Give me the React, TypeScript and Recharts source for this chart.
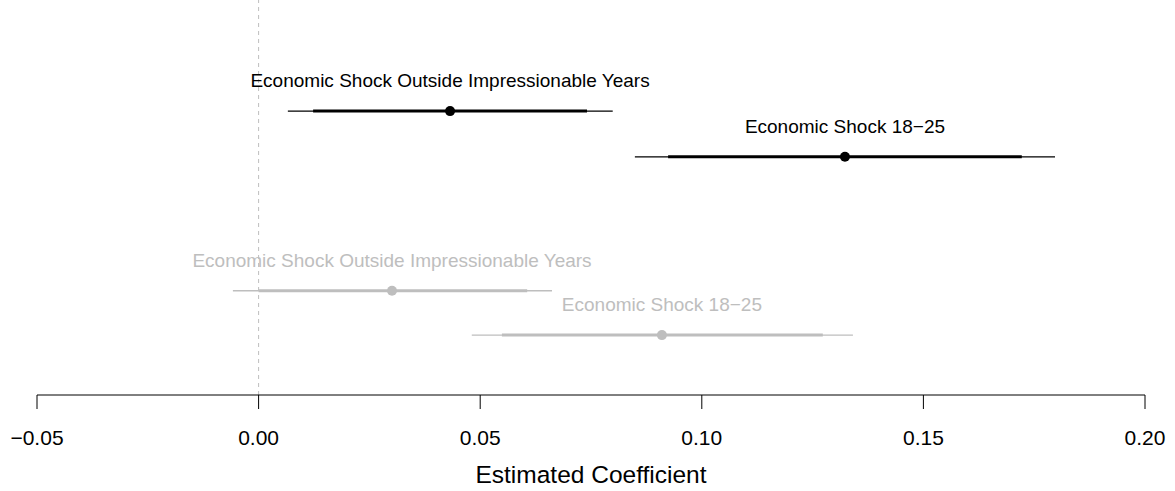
import React from 'react';
import {
  ScatterChart,
  Scatter,
  XAxis,
  YAxis,
  ReferenceLine,
} from 'recharts';

// one row per estimate, top to bottom
const rowLabels = [
  'Economic Shock Outside Impressionable Years',
  'Economic Shock 18\u221225',
  'Economic Shock Outside Impressionable Years',
  'Economic Shock 18\u221225',
];
const rowGroups = ['main', 'main', 'alt', 'alt'];
const rowPos = [1, 2, 4.93, 5.9];
const estimates = [0.0432, 0.1323, 0.0301, 0.091];
const ci90Low = [0.0123, 0.0924, 0.0, 0.0549];
const ci90High = [0.0741, 0.1722, 0.0606, 0.1273];
const ci95Low = [0.0066, 0.0849, -0.0058, 0.0481];
const ci95High = [0.0799, 0.1797, 0.0662, 0.1341];

const xTicks = [-0.05, 0, 0.05, 0.1, 0.15, 0.2];

const groupColor: Record<string, string> = { main: '#000000', alt: '#bebebe' };
const FONT = '"Liberation Sans", Arial, Helvetica, sans-serif';

const rows = rowLabels.map((label, i) => ({
  label,
  group: rowGroups[i],
  x: estimates[i],
  y: rowPos[i],
}));

const fmtTick = (v: number) => v.toFixed(2).replace('-', '\u2212');

const PointWithLabel = (props: any) => {
  const { cx, cy, payload } = props;
  const color = groupColor[payload.group];
  return (
    <g>
      <circle cx={cx} cy={cy} r={5} fill={color} />
      <text
        x={cx}
        y={cy - 24}
        textAnchor="middle"
        fill={color}
        fontSize={19}
        fontFamily={FONT}
      >
        {payload.label}
      </text>
    </g>
  );
};

const App: React.FC = () => {
  return (
    <div style={{ position: 'absolute', left: 0, top: 0, background: '#fff' }}>
      <ScatterChart
        width={1175}
        height={491}
        margin={{ top: 0, right: 30, left: 37, bottom: 0 }}
      >
        <XAxis
          type="number"
          dataKey="x"
          domain={[-0.05, 0.2]}
          ticks={xTicks}
          interval={0}
          tickFormatter={fmtTick}
          tick={{ fill: '#000', fontSize: 21, fontFamily: FONT }}
          tickSize={14}
          tickMargin={21}
          stroke="#000"
          height={96}
          label={{
            value: 'Estimated Coefficient',
            position: 'insideBottom',
            offset: 8,
            fill: '#000',
            fontSize: 24.5,
            fontFamily: FONT,
          }}
        />
        <YAxis
          type="number"
          dataKey="y"
          domain={[-1.43, 7.21]}
          reversed
          hide
          width={0}
        />
        <ReferenceLine x={0} stroke="#bebebe" strokeDasharray="4 4" />
        {rows.map((r, i) => (
          <ReferenceLine
            key={`w${i}`}
            segment={[
              { x: ci95Low[i], y: r.y },
              { x: ci95High[i], y: r.y },
            ]}
            stroke={groupColor[r.group]}
            strokeWidth={1.3}
          />
        ))}
        {rows.map((r, i) => (
          <ReferenceLine
            key={`n${i}`}
            segment={[
              { x: ci90Low[i], y: r.y },
              { x: ci90High[i], y: r.y },
            ]}
            stroke={groupColor[r.group]}
            strokeWidth={3}
          />
        ))}
        <Scatter
          data={rows.filter((r) => r.group === 'alt')}
          shape={<PointWithLabel />}
          isAnimationActive={false}
        />
        <Scatter
          data={rows.filter((r) => r.group === 'main')}
          shape={<PointWithLabel />}
          isAnimationActive={false}
        />
      </ScatterChart>
    </div>
  );
};

export default App;
